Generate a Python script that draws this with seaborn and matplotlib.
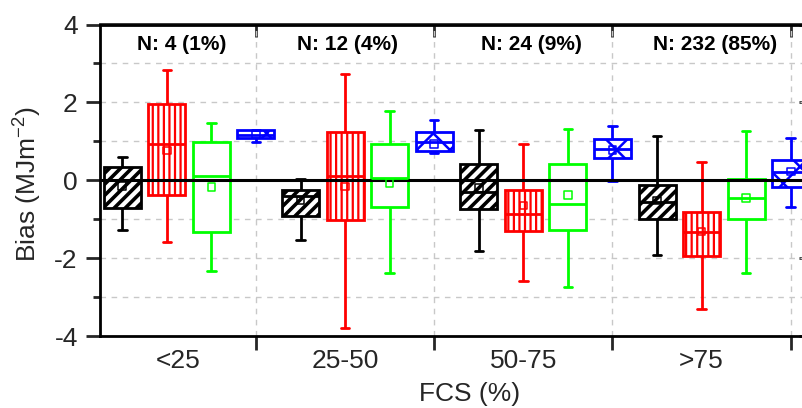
import numpy as np
import pandas as pd
import matplotlib
matplotlib.use("Agg")
import matplotlib.pyplot as plt
import seaborn as sns

# ---------------- data ----------------
categories = ["<25", "25-50", "50-75", ">75"]
n_labels = ["N: 4 (1%)", "N: 12 (4%)", "N: 24 (9%)", "N: 232 (85%)"]
series_names = ["S1", "S2", "S3", "S4"]

# black series
s1_low = [-1.27, -1.53, -1.81, -1.91]
s1_q1 = [-0.71, -0.91, -0.74, -0.99]
s1_med = [0.00, -0.40, -0.30, -0.55]
s1_q3 = [0.35, -0.25, 0.42, -0.12]
s1_high = [0.59, 0.03, 1.30, 1.13]
s1_mean = [-0.15, -0.52, -0.20, -0.52]

# red series
s2_low = [-1.59, -3.80, -2.60, -3.31]
s2_q1 = [-0.38, -1.02, -1.31, -1.94]
s2_med = [0.92, 0.10, -0.87, -1.34]
s2_q3 = [1.95, 1.23, -0.24, -0.81]
s2_high = [2.82, 2.72, 0.92, 0.46]
s2_mean = [0.76, -0.16, -0.65, -1.32]

# green series
s3_low = [-2.33, -2.38, -2.75, -2.37]
s3_q1 = [-1.33, -0.68, -1.27, -0.99]
s3_med = [0.12, 0.05, -0.61, -0.46]
s3_q3 = [0.99, 0.93, 0.42, 0.03]
s3_high = [1.47, 1.77, 1.32, 1.26]
s3_mean = [-0.18, -0.07, -0.38, -0.46]

# blue series
s4_low = [0.99, 0.69, -0.03, -0.69]
s4_q1 = [1.08, 0.76, 0.57, -0.18]
s4_med = [1.17, 0.99, 0.80, 0.21]
s4_q3 = [1.28, 1.23, 1.06, 0.52]
s4_high = [1.28, 1.56, 1.39, 1.09]
s4_mean = [1.17, 0.93, 0.78, 0.22]

series_colors = ["#000000", "#FF0000", "#00FF00", "#0000FF"]
series_hatches = ["///", "|||", "", "x"]
hatch_widths = [2.6, 1.6, 1.0, 1.8]

stats = [
    (s1_low, s1_q1, s1_med, s1_q3, s1_high, s1_mean),
    (s2_low, s2_q1, s2_med, s2_q3, s2_high, s2_mean),
    (s3_low, s3_q1, s3_med, s3_q3, s3_high, s3_mean),
    (s4_low, s4_q1, s4_med, s4_q3, s4_high, s4_mean),
]

# five-number summaries -> long table (min, q1, median, q3, max)
rows = []
for name, (lo, q1, md, q3, hi, _) in zip(series_names, stats):
    for i, cat in enumerate(categories):
        for v in (lo[i], q1[i], md[i], q3[i], hi[i]):
            rows.append({"cat": cat, "series": name, "val": v})
df = pd.DataFrame(rows)

# ---------------- style ----------------
sns.set_style("ticks")
plt.rcParams.update({
    "font.family": ["Liberation Sans", "DejaVu Sans"],
    "axes.unicode_minus": False,
    "mathtext.default": "regular",
    "axes.linewidth": 2.0,
    "hatch.linewidth": 2.0,
})

fig = plt.figure(figsize=(8.03, 4.08), dpi=100)
ax = fig.add_axes([100 / 803, 72 / 408, 713 / 803, 311.5 / 408])

n_hue = len(series_names)
slot = 1.0 / n_hue
box_w = slot * (1 - 0.17)

for k, name in enumerate(series_names):
    n_p0 = len(ax.patches)
    n_l0 = len(ax.lines)
    with plt.rc_context({"hatch.linewidth": hatch_widths[k]}):
        sns.boxplot(
            data=df[df["series"] == name], x="cat", y="val",
            hue="series", order=categories, hue_order=series_names,
            palette={n: "white" for n in series_names},
            linecolor=series_colors[k], fill=True, dodge=True,
            width=1.0, gap=0.17, whis=np.inf, linewidth=2.0,
            saturation=1, legend=False, ax=ax,
        )
        for p in ax.patches[n_p0:]:
            p.set_facecolor("white")
            p.set_edgecolor(series_colors[k])
            p.set_hatch(series_hatches[k])
            if hasattr(p, "set_hatch_linewidth"):
                p.set_hatch_linewidth(hatch_widths[k])
    # narrow whisker caps
    for ln in ax.lines[n_l0:]:
        x = np.asarray(ln.get_xdata(), dtype=float)
        y = np.asarray(ln.get_ydata(), dtype=float)
        if len(x) == 2 and y[0] == y[1] and abs(x[1] - x[0]) < 0.8 * box_w:
            c = x.mean()
            ln.set_xdata([c - 0.024, c + 0.024])

# mean markers (hollow squares)
for k, name in enumerate(series_names):
    means = stats[k][5]
    xs = [i + (k - (n_hue - 1) / 2) * slot for i in range(len(categories))]
    sns.scatterplot(x=xs, y=means, marker="s", s=30, facecolor="none",
                    edgecolor=series_colors[k], linewidth=1.1, zorder=4,
                    ax=ax, legend=False)

# zero line
ax.axhline(0, color="black", lw=2.2, zorder=2.05)

# ---------------- axes ----------------
ax.set_xlim(-0.5, 3.5)
ax.set_ylim(-4, 4)

majors = [i + (n_hue - 1) / 2 * slot for i in range(len(categories))]
edges = [-0.5] + majors
mids = [(a + b) / 2 for a, b in zip(edges[:-1], edges[1:])]
ax.set_xticks(majors, labels=[""] * len(majors))
ax.set_xticks(mids, labels=categories, minor=True)
ax.tick_params(axis="x", which="major", direction="out", length=10, width=2)
ax.tick_params(axis="x", which="minor", length=0, pad=9, labelsize=19)

ax.set_yticks([-4, -2, 0, 2, 4])
ax.set_yticks([-3, -1, 1, 3], minor=True)
ax.tick_params(axis="y", which="major", direction="out", length=10, width=2,
               labelsize=19, pad=6)
ax.tick_params(axis="y", which="minor", direction="out", length=5, width=2)

ax.grid(True, axis="y", which="both", color="#c8c8c8", linestyle=(0, (4, 4)),
        linewidth=1.0)
ax.grid(True, axis="x", which="major", color="#c8c8c8", linestyle=(0, (4, 4)),
        linewidth=1.0)
ax.set_axisbelow(True)

for sp in ax.spines.values():
    sp.set_visible(True)
    sp.set_linewidth(2.0)
    sp.set_color("black")

secx = ax.secondary_xaxis("top")
secx.set_xticks(majors, labels=[""] * len(majors))
secx.tick_params(direction="in", length=9, width=2)
secx.spines["top"].set_linewidth(2.0)

secy = ax.secondary_yaxis("right")
secy.set_yticks([-4, -2, 0, 2, 4], labels=[""] * 5)
secy.tick_params(direction="in", length=10, width=2)
secy.spines["right"].set_linewidth(2.0)

ax.set_xlabel("FCS (%)", fontsize=19)
ax.xaxis.label.set_va("baseline")
ax.xaxis.set_label_coords((470 - 100) / 713, (336 - 401) / 311.5)

ax.set_ylabel(r"Bias (MJm$^{-2}$)", fontsize=19)
ax.yaxis.label.set_va("center")
ax.yaxis.set_label_coords((28 - 100) / 713, (336 - 184.5) / 311.5)

# N labels
n_x = [-0.04, 0.89, 1.92, 2.95]
for xv, lab in zip(n_x, n_labels):
    ax.text(xv, 3.34, lab, ha="center", va="baseline", fontsize=15,
            fontweight="bold", color="black")

fig.savefig("out.png", dpi=100)
